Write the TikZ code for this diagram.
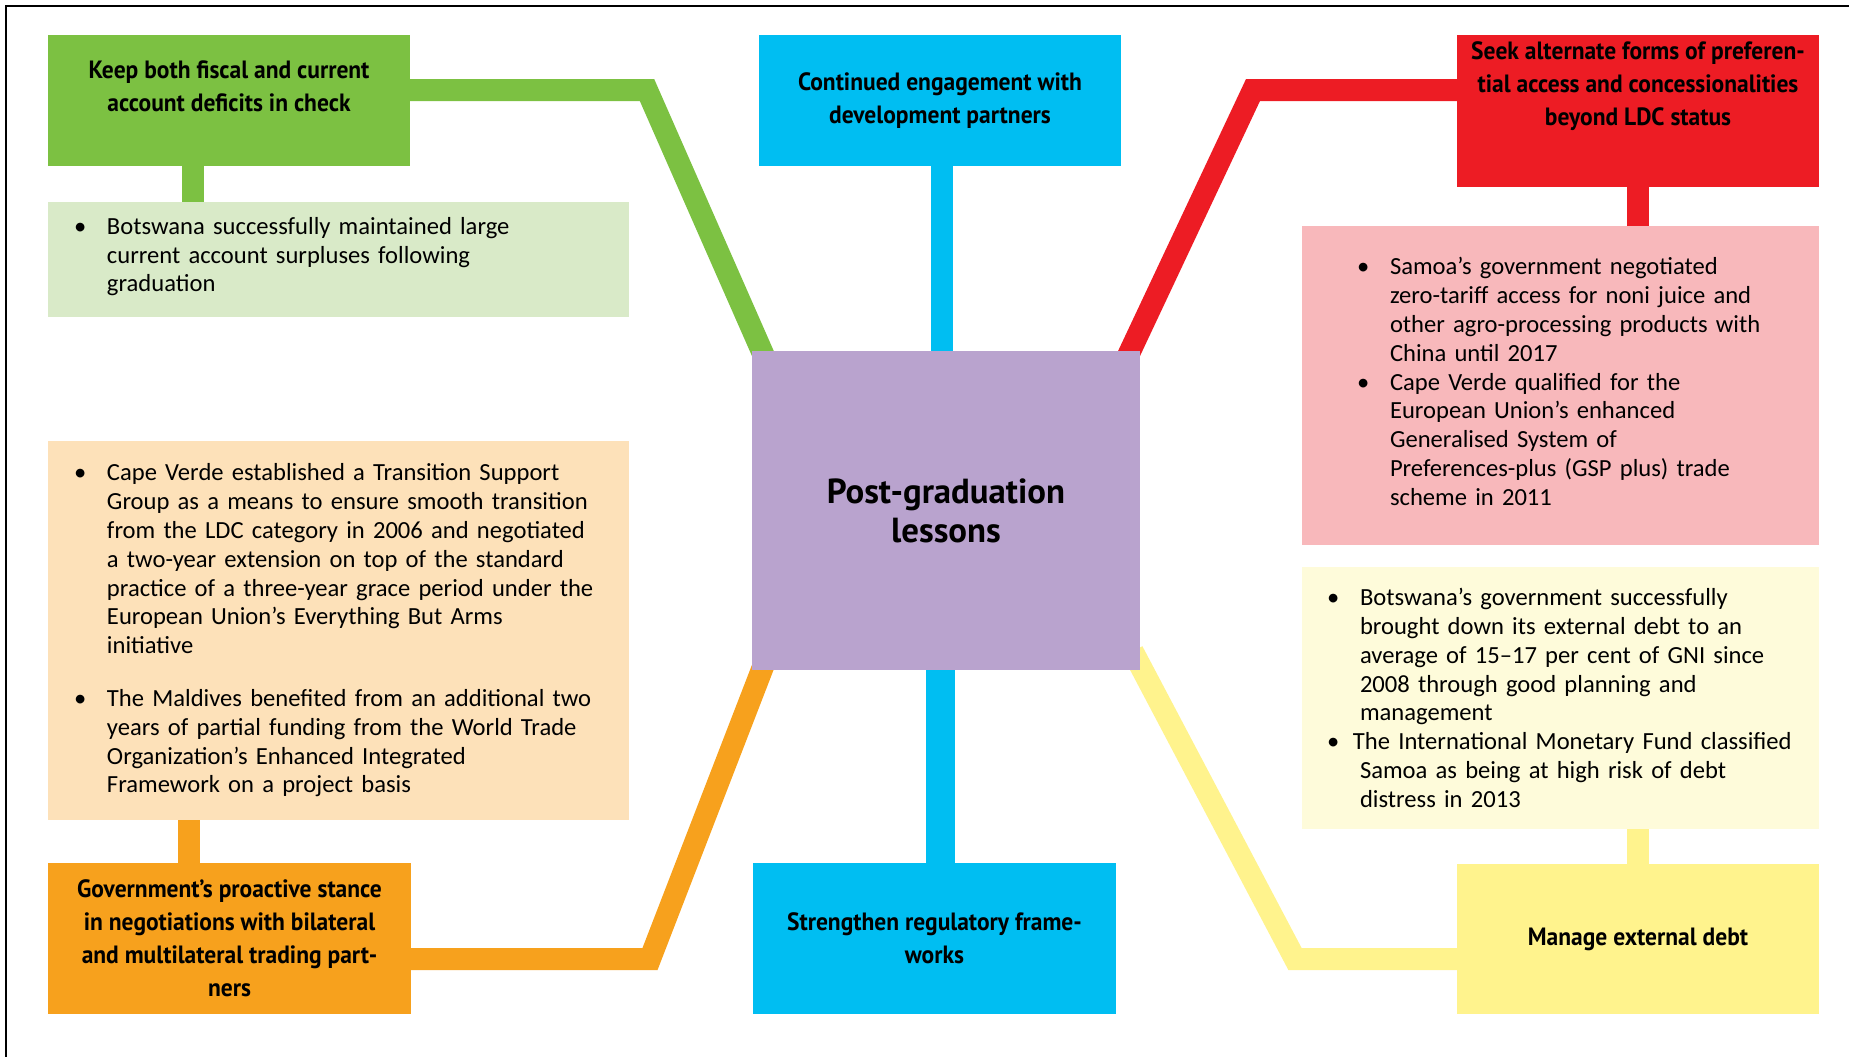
\documentclass[tikz,border=0pt]{standalone}
\usepackage{fontspec}
\setmainfont{Carlito}
\newfontfamily\condfont[FakeStretch=0.94]{PT Sans}
\newfontfamily\headfont{PT Sans}
\pgfdeclarelayer{links}
\pgfsetlayers{links,main}
\definecolor{leafgreen}{HTML}{7CC142}
\definecolor{sage}{HTML}{D9EAC8}
\definecolor{sky}{HTML}{00BEF2}
\definecolor{scarlet}{HTML}{ED1C24}
\definecolor{blush}{HTML}{F8B8BB}
\definecolor{lilac}{HTML}{B9A3CE}
\definecolor{peach}{HTML}{FDE1B9}
\definecolor{amber}{HTML}{F7A11D}
\definecolor{cream}{HTML}{FEFBDA}
\definecolor{lemon}{HTML}{FFF38D}
\newcommand{\bul}[2][16.5pt]{\makebox[#1][l]{\textbullet}\mbox{#2}}
\newcommand{\ctd}[1]{\hspace*{16.5pt}\mbox{#1}}
\tikzset{
	headbox/.style={fill=#1, inner sep=0pt, align=center,
		font=\condfont\bfseries\fontsize{12.5pt}{16.5pt}\selectfont},
	notebox/.style={fill=#1, inner ysep=0pt, align=left,
		font=\fontsize{12.3pt}{14.4pt}\selectfont},
	linkto/.style={draw=#1, line width=11pt},
}
\begin{document}
\begin{tikzpicture}[x=0.5pt,y=-0.5pt]
		\useasboundingbox (0,0) rectangle (1849,1057);
		\draw [line width=1pt] (1849,6) -- (6,6) -- (6,1057);
		\node [headbox=leafgreen, minimum width=181pt, minimum height=65.5pt] (keep) at (229,100.5) {Keep both fiscal and current\\account deficits in check\rule[-14.5pt]{0pt}{0pt}};
		\node [headbox=sky, minimum width=181pt, minimum height=65.5pt] (engage) at (940,100.5) {Continued engagement with\\development partners};
		\node [headbox=scarlet, minimum width=181pt, minimum height=76pt] (seek) at (1638,111) {Seek alternate forms of preferen-\\tial access and concessionalities\\beyond LDC status\rule[-27.5pt]{0pt}{0pt}};
		\node [fill=lilac, minimum width=194pt, minimum height=159.5pt, align=center, font=\headfont\bfseries\fontsize{17.4pt}{19.5pt}\selectfont] (lessons) at (946,510.5) {Post-graduation\\lessons};
		\node [headbox=amber, minimum width=181.5pt, minimum height=75.5pt] (stance) at (229.5,938.5) {Government’s proactive stance\\in negotiations with bilateral\\and multilateral trading part-\\ners};
		\node [headbox=sky, minimum width=181.5pt, minimum height=75.5pt] (regulate) at (934.5,938.5) {Strengthen regulatory frame-\\works};
		\node [headbox=lemon, minimum width=181pt, minimum height=75pt] (debt) at (1638,939) {Manage external debt};
		\node [notebox=sage, text width=264.5pt, inner xsep=13pt, minimum height=57.5pt] (keepnote) at (338.5,259.5) {\bul{Botswana successfully maintained large}\\\ctd{current account surpluses following}\\\ctd{graduation}\rule[-5pt]{0pt}{0pt}};
		\node [notebox=peach, text width=264.5pt, inner xsep=13pt, minimum height=189.5pt] (stancenote) at (338.5,630.5) {\bul{Cape Verde established a Transition Support}\\\ctd{Group as a means to ensure smooth transition}\\\ctd{from the LDC category in 2006 and negotiated}\\\ctd{a two-year extension on top of the standard}\\\ctd{practice of a three-year grace period under the}\\\ctd{European Union’s Everything But Arms}\\\ctd{initiative}\\[12pt]\bul{The Maldives benefited from an additional two}\\\ctd{years of partial funding from the World Trade}\\\ctd{Organization’s Enhanced Integrated}\\\ctd{Framework on a project basis}};
		\node [notebox=blush, text width=203.5pt, inner xsep=27.5pt, minimum height=159.5pt] (seeknote) at (1560.5,385.5) {\bul{Samoa’s government negotiated}\\\ctd{zero-tariff access for noni juice and}\\\ctd{other agro-processing products with}\\\ctd{China until 2017}\\\bul{Cape Verde qualified for the}\\\ctd{European Union’s enhanced}\\\ctd{Generalised System of}\\\ctd{Preferences-plus (GSP plus) trade}\\\ctd{scheme in 2011}\rule[-4pt]{0pt}{0pt}};
		\node [notebox=cream, text width=233.5pt, inner xsep=12.5pt, minimum height=131pt] (debtnote) at (1560.5,698) {\bul{Botswana’s government successfully}\\\ctd{brought down its external debt to an}\\\ctd{average of 15--17 per cent of GNI since}\\\ctd{2008 through good planning and}\\\ctd{management}\\\bul[13pt]{The International Monetary Fund classified}\\\ctd{Samoa as being at high risk of debt}\\\ctd{distress in 2013}};
		\begin{pgfonlayer}{links}
		\coordinate (gbend) at (647,90);
		\coordinate (rbend) at (1253,90);
		\coordinate (obend) at (650,959);
		\coordinate (ybend) at (1295,959);
		\draw [linkto=leafgreen, shorten >=-4pt] (keep.center |- gbend) -- (gbend) -- ([xshift=5pt]lessons.north west);
		\draw [linkto=leafgreen] ([xshift=-18pt]keep.center) -- ([xshift=-18pt]keep.center |- keepnote.center);
		\draw [linkto=sky] ([xshift=1pt]engage.center) -- ([xshift=1pt]engage.center |- lessons.center);
		\draw [linkto=scarlet, shorten >=-4pt] (seek.center |- rbend) -- (rbend) -- ([xshift=-5pt]lessons.north east);
		\draw [linkto=scarlet] (seek.center) -- (seek.center |- seeknote.center);
		\draw [linkto=amber] ([xshift=-20.5pt]stance.center) -- ([xshift=-20.5pt]stance.center |- stancenote.center);
		\draw [linkto=amber, shorten >=-4pt] (stance.center |- obend) -- (obend) -- ([xshift=5pt]lessons.south west);
		\draw [linkto=sky, line width=14.5pt] ([xshift=3pt]regulate.center) -- ([xshift=3pt]regulate.center |- lessons.center);
		\draw [linkto=lemon, shorten >=-4pt] (debt.center |- ybend) -- (ybend) -- ([xshift=-2pt,yshift=6pt]lessons.south east);
		\draw [linkto=lemon] (debt.center) -- (debt.center |- debtnote.center);
		\end{pgfonlayer}
	\end{tikzpicture}
\end{document}
